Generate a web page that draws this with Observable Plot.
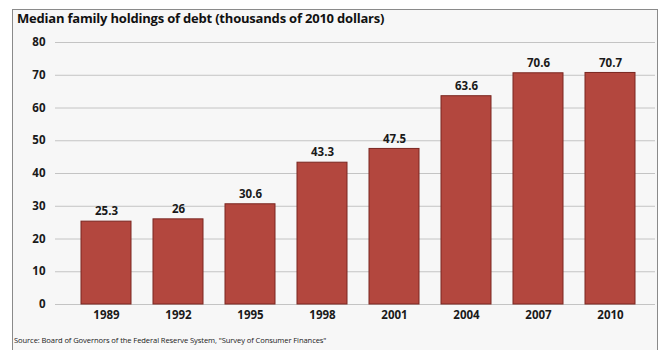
<!DOCTYPE html>
<html>
<head>
<meta charset="utf-8">
<script src="https://cdn.jsdelivr.net/npm/d3@7"></script>
<script src="https://cdn.jsdelivr.net/npm/@observablehq/plot@0.6"></script>
<style>
  html, body { margin: 0; padding: 0; background: #ffffff; }
  body { width: 660px; height: 350px; position: relative; overflow: hidden; font-family: "Open Sans", sans-serif; }
  #frame { position: absolute; left: 12px; top: 9px; width: 644px; height: 345px;
           border-left: 1.5px solid #8a8a8a; border-top: 1.5px solid #8a8a8a; border-right: 1.5px solid #8a8a8a;
           background: #f7f7f7; }
  #title { position: absolute; left: 17px; top: 9px; font-size: 13px; font-weight: 700; color: #111; letter-spacing: -0.2px; white-space: nowrap; }
  #chart { position: absolute; left: 0; top: 30px; }
  #caption { position: absolute; left: 14px; top: 335px; font-size: 7.6px; color: #1a1a1a; letter-spacing: -0.1px; white-space: nowrap; }
</style>
</head>
<body>
<div id="frame"></div>
<div id="title">Median family holdings of debt (thousands of 2010 dollars)</div>
<div id="chart"></div>
<div id="caption">Source: Board of Governors of the Federal Reserve System, "Survey of Consumer Finances"</div>
<script>
const years = ["1989", "1992", "1995", "1998", "2001", "2004", "2007", "2010"];
const debt = [25.3, 26, 30.6, 43.3, 47.5, 63.6, 70.6, 70.7];
const labels = ["25.3", "26", "30.6", "43.3", "47.5", "63.6", "70.6", "70.7"];
const yTicks = [0, 10, 20, 30, 40, 50, 60, 70, 80];

const data = years.map((y, i) => ({year: y, value: debt[i], label: labels[i]}));

const chart = Plot.plot({
  width: 660,
  height: 296,
  marginTop: 12,
  marginBottom: 22,
  marginLeft: 55,
  marginRight: 5,
  style: {background: "transparent", fontFamily: "Open Sans, sans-serif", fontWeight: 700, fontSize: "11px", color: "#1a1a1a"},
  x: {domain: years, paddingInner: 0.31, paddingOuter: 0.293, align: 0.57, label: null, tickSize: 0, tickPadding: 6},
  y: {domain: [0, 80], ticks: yTicks, label: null, tickSize: 0, tickPadding: 10},
  marks: [
    Plot.gridY(yTicks, {stroke: "#c4c4c4", strokeOpacity: 1, strokeWidth: 1}),
    Plot.barY(data, {x: "year", y: "value", fill: "#b3473e", stroke: "#7a2620", strokeWidth: 1}),
    Plot.text(data, {x: "year", y: "value", text: "label", dy: -10, fontSize: 11.5, fontWeight: 700, fill: "#1a1a1a"}),
    Plot.axisX({tickSize: 0, tickPadding: 6, fontSize: 11.5, fontWeight: 700, label: null}),
    Plot.axisY({ticks: yTicks, tickSize: 0, tickPadding: 10, fontSize: 11.5, fontWeight: 700, label: null})
  ]
});
document.getElementById("chart").appendChild(chart);
</script>
</body>
</html>
